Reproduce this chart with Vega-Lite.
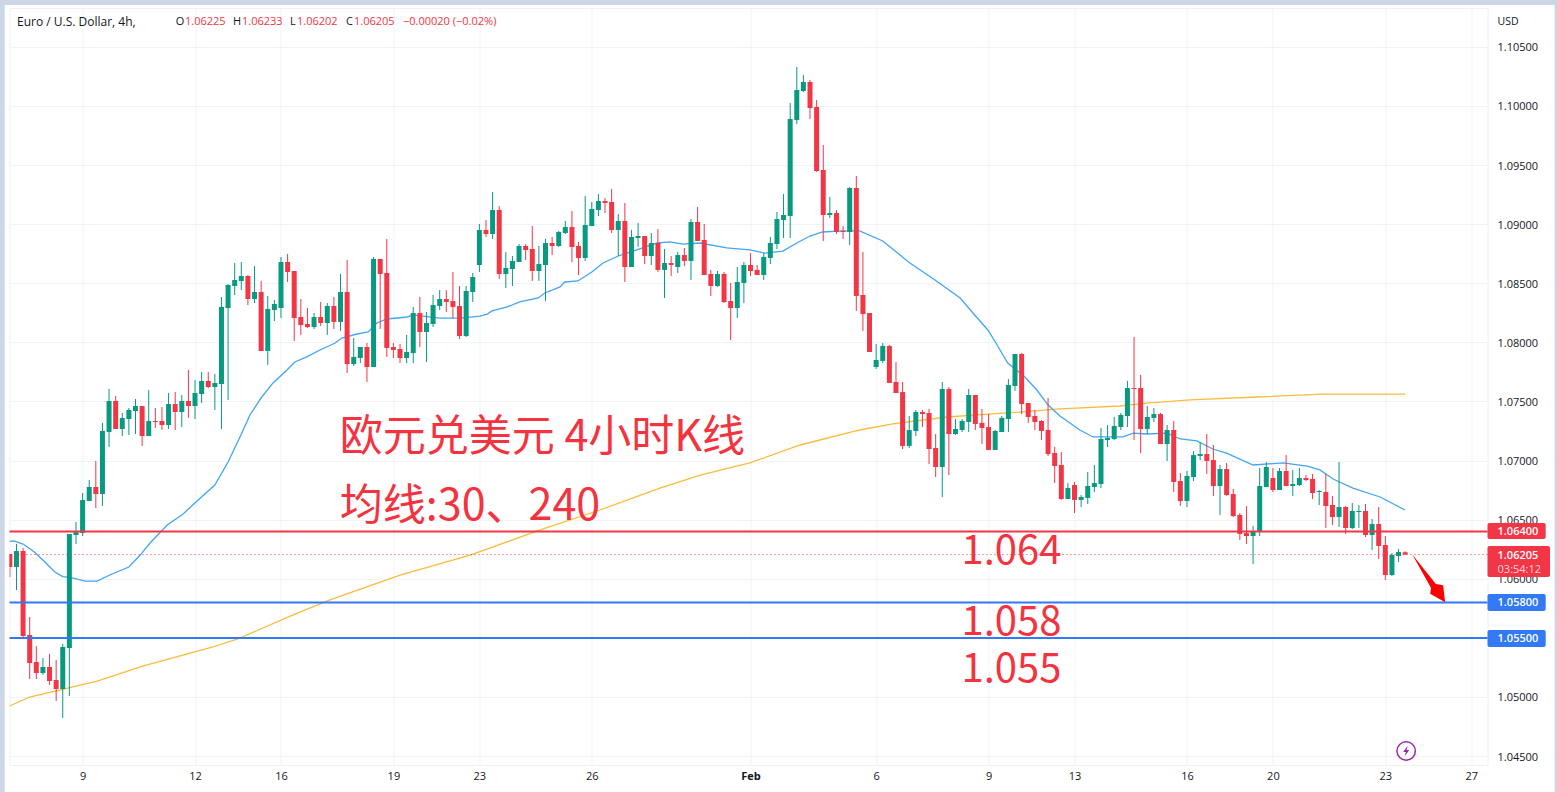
{"$schema":"https://vega.github.io/schema/vega-lite/v6.json","width":1478,"height":757,"autosize":{"type":"none"},"padding":{"left":9.5,"top":8,"right":69.5,"bottom":27},"background":"#ffffff","view":{"stroke":"#eef0f4","fill":"#ffffff"},
"datasets":{
"candles":[
{"i":-11,"o":1.06210,"h":1.06210,"l":1.06015,"c":1.06100},{"i":-10,"o":1.06100,"h":1.06294,"l":1.05905,"c":1.06235},{"i":-9,"o":1.06235,"h":1.06261,"l":1.05508,"c":1.05516},{"i":-8,"o":1.05525,"h":1.05677,"l":1.05152,"c":1.05288},{"i":-7,"o":1.05296,"h":1.05431,"l":1.05152,"c":1.05204},{"i":-6,"o":1.05204,"h":1.05330,"l":1.05187,"c":1.05254},{"i":-5,"o":1.05254,"h":1.05364,"l":1.05102,"c":1.05136},{"i":-4,"o":1.05144,"h":1.05313,"l":1.04967,"c":1.05068},{"i":-3,"o":1.05068,"h":1.05448,"l":1.04823,"c":1.05423},{"i":-2,"o":1.05415,"h":1.06379,"l":1.05009,"c":1.06379},{"i":-1,"o":1.06370,"h":1.06481,"l":1.06294,"c":1.06404},
{"i":0,"o":1.06387,"h":1.06726,"l":1.06362,"c":1.06667},{"i":1,"o":1.06658,"h":1.06836,"l":1.06658,"c":1.06776},{"i":2,"o":1.06776,"h":1.06997,"l":1.06599,"c":1.06717},{"i":3,"o":1.06717,"h":1.07319,"l":1.06616,"c":1.07251},{"i":4,"o":1.07242,"h":1.07606,"l":1.07115,"c":1.07505},{"i":5,"o":1.07505,"h":1.07547,"l":1.07267,"c":1.07267},{"i":6,"o":1.07267,"h":1.07403,"l":1.07208,"c":1.07361},{"i":7,"o":1.07352,"h":1.07445,"l":1.07217,"c":1.07428},{"i":8,"o":1.07420,"h":1.07521,"l":1.07225,"c":1.07462},{"i":9,"o":1.07462,"h":1.07462,"l":1.07124,"c":1.07208},
{"i":10,"o":1.07208,"h":1.07597,"l":1.07208,"c":1.07335},{"i":11,"o":1.07335,"h":1.07445,"l":1.07276,"c":1.07327},{"i":12,"o":1.07335,"h":1.07453,"l":1.07259,"c":1.07301},{"i":13,"o":1.07301,"h":1.07572,"l":1.07267,"c":1.07479},{"i":14,"o":1.07479,"h":1.07580,"l":1.07259,"c":1.07411},{"i":15,"o":1.07411,"h":1.07555,"l":1.07284,"c":1.07505},{"i":16,"o":1.07505,"h":1.07767,"l":1.07361,"c":1.07462},{"i":17,"o":1.07462,"h":1.07682,"l":1.07352,"c":1.07572},{"i":18,"o":1.07563,"h":1.07750,"l":1.07487,"c":1.07674},{"i":19,"o":1.07674,"h":1.07750,"l":1.07614,"c":1.07623},
{"i":20,"o":1.07623,"h":1.07733,"l":1.07428,"c":1.07657},{"i":21,"o":1.07648,"h":1.08384,"l":1.07267,"c":1.08300},{"i":22,"o":1.08291,"h":1.08494,"l":1.07513,"c":1.08486},{"i":23,"o":1.08477,"h":1.08672,"l":1.08401,"c":1.08528},{"i":24,"o":1.08520,"h":1.08680,"l":1.08443,"c":1.08562},{"i":25,"o":1.08562,"h":1.08570,"l":1.08316,"c":1.08367},{"i":26,"o":1.08367,"h":1.08646,"l":1.08333,"c":1.08426},{"i":27,"o":1.08426,"h":1.08520,"l":1.07927,"c":1.07927},{"i":28,"o":1.07927,"h":1.08393,"l":1.07809,"c":1.08283},{"i":29,"o":1.08274,"h":1.08359,"l":1.08181,"c":1.08325},
{"i":30,"o":1.08291,"h":1.08723,"l":1.08206,"c":1.08680},{"i":31,"o":1.08680,"h":1.08748,"l":1.08511,"c":1.08596},{"i":32,"o":1.08604,"h":1.08604,"l":1.08012,"c":1.08206},{"i":33,"o":1.08215,"h":1.08367,"l":1.08063,"c":1.08147},{"i":34,"o":1.08156,"h":1.08291,"l":1.08122,"c":1.08130},{"i":35,"o":1.08130,"h":1.08249,"l":1.08113,"c":1.08215},{"i":36,"o":1.08215,"h":1.08342,"l":1.08139,"c":1.08164},{"i":37,"o":1.08164,"h":1.08333,"l":1.08063,"c":1.08308},{"i":38,"o":1.08308,"h":1.08384,"l":1.08113,"c":1.08173},{"i":39,"o":1.08173,"h":1.08579,"l":1.08097,"c":1.08426},
{"i":40,"o":1.08426,"h":1.08697,"l":1.07741,"c":1.07817},{"i":41,"o":1.07817,"h":1.08037,"l":1.07800,"c":1.07877},{"i":42,"o":1.07868,"h":1.07961,"l":1.07825,"c":1.07961},{"i":43,"o":1.07961,"h":1.07995,"l":1.07665,"c":1.07792},{"i":44,"o":1.07792,"h":1.08723,"l":1.07792,"c":1.08706},{"i":45,"o":1.08706,"h":1.08706,"l":1.08113,"c":1.08579},{"i":46,"o":1.08587,"h":1.08875,"l":1.07877,"c":1.07953},{"i":47,"o":1.07961,"h":1.07995,"l":1.07868,"c":1.07936},{"i":48,"o":1.07944,"h":1.07987,"l":1.07825,"c":1.07868},{"i":49,"o":1.07868,"h":1.08063,"l":1.07825,"c":1.07919},
{"i":50,"o":1.07910,"h":1.08300,"l":1.07825,"c":1.08249},{"i":51,"o":1.08249,"h":1.08384,"l":1.07961,"c":1.08088},{"i":52,"o":1.08088,"h":1.08257,"l":1.07834,"c":1.08164},{"i":53,"o":1.08156,"h":1.08401,"l":1.08130,"c":1.08316},{"i":54,"o":1.08308,"h":1.08443,"l":1.08274,"c":1.08367},{"i":55,"o":1.08367,"h":1.08443,"l":1.08257,"c":1.08342},{"i":56,"o":1.08350,"h":1.08596,"l":1.08206,"c":1.08300},{"i":57,"o":1.08308,"h":1.08477,"l":1.08029,"c":1.08054},{"i":58,"o":1.08054,"h":1.08477,"l":1.08046,"c":1.08435},{"i":59,"o":1.08426,"h":1.08587,"l":1.08342,"c":1.08553},
{"i":60,"o":1.08655,"h":1.09002,"l":1.08596,"c":1.08951},{"i":61,"o":1.08951,"h":1.09036,"l":1.08892,"c":1.08917},{"i":62,"o":1.08917,"h":1.09272,"l":1.08875,"c":1.09120},{"i":63,"o":1.09120,"h":1.09154,"l":1.08537,"c":1.08579},{"i":64,"o":1.08579,"h":1.08765,"l":1.08460,"c":1.08630},{"i":65,"o":1.08621,"h":1.08731,"l":1.08477,"c":1.08689},{"i":66,"o":1.08680,"h":1.08832,"l":1.08680,"c":1.08816},{"i":67,"o":1.08816,"h":1.08832,"l":1.08697,"c":1.08782},{"i":68,"o":1.08790,"h":1.08985,"l":1.08520,"c":1.08604},{"i":69,"o":1.08604,"h":1.08816,"l":1.08520,"c":1.08663},
{"i":70,"o":1.08655,"h":1.08875,"l":1.08350,"c":1.08841},{"i":71,"o":1.08841,"h":1.08892,"l":1.08739,"c":1.08816},{"i":72,"o":1.08816,"h":1.08943,"l":1.08807,"c":1.08934},{"i":73,"o":1.08926,"h":1.09027,"l":1.08917,"c":1.08977},{"i":74,"o":1.08977,"h":1.09112,"l":1.08680,"c":1.08807},{"i":75,"o":1.08816,"h":1.08850,"l":1.08570,"c":1.08714},{"i":76,"o":1.08714,"h":1.09239,"l":1.08689,"c":1.08993},{"i":77,"o":1.08985,"h":1.09188,"l":1.08985,"c":1.09129},{"i":78,"o":1.09120,"h":1.09256,"l":1.09069,"c":1.09197},{"i":79,"o":1.09197,"h":1.09222,"l":1.09095,"c":1.09180},
{"i":80,"o":1.09188,"h":1.09298,"l":1.08926,"c":1.08951},{"i":81,"o":1.08951,"h":1.09086,"l":1.08731,"c":1.09027},{"i":82,"o":1.09027,"h":1.09180,"l":1.08511,"c":1.08638},{"i":83,"o":1.08638,"h":1.08951,"l":1.08638,"c":1.08892},{"i":84,"o":1.08883,"h":1.09010,"l":1.08807,"c":1.08900},{"i":85,"o":1.08900,"h":1.08900,"l":1.08663,"c":1.08731},{"i":86,"o":1.08731,"h":1.08926,"l":1.08655,"c":1.08841},{"i":87,"o":1.08841,"h":1.08959,"l":1.08596,"c":1.08613},{"i":88,"o":1.08613,"h":1.08790,"l":1.08376,"c":1.08672},{"i":89,"o":1.08672,"h":1.08731,"l":1.08562,"c":1.08655},
{"i":90,"o":1.08638,"h":1.08765,"l":1.08587,"c":1.08739},{"i":91,"o":1.08739,"h":1.08799,"l":1.08646,"c":1.08689},{"i":92,"o":1.08689,"h":1.09044,"l":1.08528,"c":1.09019},{"i":93,"o":1.09019,"h":1.09146,"l":1.08858,"c":1.08858},{"i":94,"o":1.08866,"h":1.09002,"l":1.08570,"c":1.08570},{"i":95,"o":1.08579,"h":1.08613,"l":1.08393,"c":1.08477},{"i":96,"o":1.08477,"h":1.08604,"l":1.08469,"c":1.08579},{"i":97,"o":1.08579,"h":1.08596,"l":1.08333,"c":1.08342},{"i":98,"o":1.08350,"h":1.08503,"l":1.08020,"c":1.08291},{"i":99,"o":1.08291,"h":1.08638,"l":1.08206,"c":1.08511},
{"i":100,"o":1.08503,"h":1.08680,"l":1.08333,"c":1.08655},{"i":101,"o":1.08655,"h":1.08756,"l":1.08562,"c":1.08604},{"i":102,"o":1.08613,"h":1.08655,"l":1.08570,"c":1.08570},{"i":103,"o":1.08570,"h":1.08756,"l":1.08528,"c":1.08723},{"i":104,"o":1.08714,"h":1.08892,"l":1.08663,"c":1.08841},{"i":105,"o":1.08832,"h":1.09103,"l":1.08790,"c":1.09044},{"i":106,"o":1.09036,"h":1.09256,"l":1.08883,"c":1.09078},{"i":107,"o":1.09069,"h":1.10025,"l":1.08883,"c":1.09890},{"i":108,"o":1.09882,"h":1.10330,"l":1.09848,"c":1.10135},{"i":109,"o":1.10127,"h":1.10262,"l":1.10118,"c":1.10203},
{"i":110,"o":1.10203,"h":1.10220,"l":1.09890,"c":1.09983},{"i":111,"o":1.09992,"h":1.10051,"l":1.09442,"c":1.09450},{"i":112,"o":1.09459,"h":1.09670,"l":1.08858,"c":1.09078},{"i":113,"o":1.09078,"h":1.09230,"l":1.09052,"c":1.09095},{"i":114,"o":1.09095,"h":1.09120,"l":1.08917,"c":1.08934},{"i":115,"o":1.08943,"h":1.08985,"l":1.08875,"c":1.08934},{"i":116,"o":1.08934,"h":1.09315,"l":1.08824,"c":1.09306},{"i":117,"o":1.09306,"h":1.09408,"l":1.08266,"c":1.08393},{"i":118,"o":1.08401,"h":1.08765,"l":1.08097,"c":1.08240},{"i":119,"o":1.08249,"h":1.08249,"l":1.07919,"c":1.07919},
{"i":120,"o":1.07792,"h":1.07987,"l":1.07775,"c":1.07851},{"i":121,"o":1.07843,"h":1.07995,"l":1.07825,"c":1.07970},{"i":122,"o":1.07970,"h":1.07978,"l":1.07657,"c":1.07657},{"i":123,"o":1.07665,"h":1.07834,"l":1.07572,"c":1.07572},{"i":124,"o":1.07580,"h":1.07665,"l":1.07098,"c":1.07124},{"i":125,"o":1.07124,"h":1.07377,"l":1.07107,"c":1.07259},{"i":126,"o":1.07251,"h":1.07428,"l":1.07208,"c":1.07411},{"i":127,"o":1.07411,"h":1.07428,"l":1.07284,"c":1.07394},{"i":128,"o":1.07403,"h":1.07437,"l":1.06971,"c":1.07098},{"i":129,"o":1.07107,"h":1.07225,"l":1.06861,"c":1.06946},
{"i":130,"o":1.06946,"h":1.07665,"l":1.06692,"c":1.07606},{"i":131,"o":1.07606,"h":1.07623,"l":1.06878,"c":1.07225},{"i":132,"o":1.07225,"h":1.07352,"l":1.07217,"c":1.07267},{"i":133,"o":1.07259,"h":1.07352,"l":1.07242,"c":1.07335},{"i":134,"o":1.07327,"h":1.07606,"l":1.07242,"c":1.07555},{"i":135,"o":1.07555,"h":1.07555,"l":1.07259,"c":1.07310},{"i":136,"o":1.07319,"h":1.07437,"l":1.07140,"c":1.07276},{"i":137,"o":1.07284,"h":1.07394,"l":1.07090,"c":1.07090},{"i":138,"o":1.07090,"h":1.07259,"l":1.07090,"c":1.07251},{"i":139,"o":1.07242,"h":1.07377,"l":1.07242,"c":1.07361},
{"i":140,"o":1.07352,"h":1.07690,"l":1.07242,"c":1.07640},{"i":141,"o":1.07631,"h":1.07902,"l":1.07589,"c":1.07902},{"i":142,"o":1.07902,"h":1.07910,"l":1.07394,"c":1.07479},{"i":143,"o":1.07487,"h":1.07487,"l":1.07319,"c":1.07369},{"i":144,"o":1.07377,"h":1.07428,"l":1.07259,"c":1.07327},{"i":145,"o":1.07335,"h":1.07344,"l":1.07174,"c":1.07251},{"i":146,"o":1.07259,"h":1.07530,"l":1.07039,"c":1.07056},{"i":147,"o":1.07064,"h":1.07115,"l":1.06810,"c":1.06954},{"i":148,"o":1.06963,"h":1.07073,"l":1.06667,"c":1.06675},{"i":149,"o":1.06675,"h":1.06810,"l":1.06675,"c":1.06768},
{"i":150,"o":1.06793,"h":1.06819,"l":1.06557,"c":1.06667},{"i":151,"o":1.06667,"h":1.06709,"l":1.06607,"c":1.06692},{"i":152,"o":1.06684,"h":1.06904,"l":1.06633,"c":1.06785},{"i":153,"o":1.06776,"h":1.06963,"l":1.06734,"c":1.06810},{"i":154,"o":1.06802,"h":1.07276,"l":1.06768,"c":1.07183},{"i":155,"o":1.07174,"h":1.07301,"l":1.07115,"c":1.07191},{"i":156,"o":1.07183,"h":1.07369,"l":1.07174,"c":1.07293},{"i":157,"o":1.07284,"h":1.07403,"l":1.07259,"c":1.07386},{"i":158,"o":1.07377,"h":1.07674,"l":1.07284,"c":1.07614},{"i":159,"o":1.07614,"h":1.08046,"l":1.07174,"c":1.07606},
{"i":160,"o":1.07614,"h":1.07724,"l":1.07064,"c":1.07267},{"i":161,"o":1.07267,"h":1.07462,"l":1.07225,"c":1.07369},{"i":162,"o":1.07361,"h":1.07445,"l":1.07327,"c":1.07394},{"i":163,"o":1.07394,"h":1.07403,"l":1.07140,"c":1.07140},{"i":164,"o":1.07140,"h":1.07301,"l":1.06997,"c":1.07259},{"i":165,"o":1.07259,"h":1.07335,"l":1.06734,"c":1.06819},{"i":166,"o":1.06827,"h":1.06895,"l":1.06616,"c":1.06658},{"i":167,"o":1.06658,"h":1.06912,"l":1.06607,"c":1.06870},{"i":168,"o":1.06861,"h":1.07081,"l":1.06827,"c":1.07047},{"i":169,"o":1.07039,"h":1.07157,"l":1.07005,"c":1.07056},
{"i":170,"o":1.07056,"h":1.07225,"l":1.06887,"c":1.06997},{"i":171,"o":1.07005,"h":1.07132,"l":1.06701,"c":1.06785},{"i":172,"o":1.06785,"h":1.06963,"l":1.06540,"c":1.06929},{"i":173,"o":1.06929,"h":1.06980,"l":1.06701,"c":1.06709},{"i":174,"o":1.06717,"h":1.06760,"l":1.06523,"c":1.06531},{"i":175,"o":1.06540,"h":1.06557,"l":1.06328,"c":1.06379},{"i":176,"o":1.06387,"h":1.06616,"l":1.06294,"c":1.06362},{"i":177,"o":1.06362,"h":1.06447,"l":1.06125,"c":1.06404},{"i":178,"o":1.06404,"h":1.06937,"l":1.06362,"c":1.06785},{"i":179,"o":1.06776,"h":1.06988,"l":1.06776,"c":1.06946},
{"i":180,"o":1.06853,"h":1.06937,"l":1.06734,"c":1.06751},{"i":181,"o":1.06751,"h":1.06937,"l":1.06751,"c":1.06912},{"i":182,"o":1.06912,"h":1.07047,"l":1.06785,"c":1.06785},{"i":183,"o":1.06785,"h":1.06921,"l":1.06701,"c":1.06802},{"i":184,"o":1.06793,"h":1.06937,"l":1.06785,"c":1.06853},{"i":185,"o":1.06853,"h":1.06878,"l":1.06827,"c":1.06836},{"i":186,"o":1.06844,"h":1.06887,"l":1.06675,"c":1.06726},{"i":187,"o":1.06734,"h":1.06751,"l":1.06624,"c":1.06743},{"i":188,"o":1.06734,"h":1.06887,"l":1.06430,"c":1.06616},{"i":189,"o":1.06624,"h":1.06701,"l":1.06455,"c":1.06523},
{"i":190,"o":1.06523,"h":1.06988,"l":1.06438,"c":1.06607},{"i":191,"o":1.06607,"h":1.06616,"l":1.06379,"c":1.06430},{"i":192,"o":1.06430,"h":1.06641,"l":1.06421,"c":1.06574},{"i":193,"o":1.06565,"h":1.06624,"l":1.06430,"c":1.06574},{"i":194,"o":1.06574,"h":1.06633,"l":1.06354,"c":1.06370},{"i":195,"o":1.06370,"h":1.06506,"l":1.06244,"c":1.06464},{"i":196,"o":1.06464,"h":1.06607,"l":1.06168,"c":1.06278},{"i":197,"o":1.06286,"h":1.06362,"l":1.05990,"c":1.06032},{"i":198,"o":1.06032,"h":1.06218,"l":1.06024,"c":1.06202},{"i":199,"o":1.06193,"h":1.06252,"l":1.06142,"c":1.06227},{"i":200,"o":1.06225,"h":1.06233,"l":1.06202,"c":1.06205}
],
"ma30":[{"i":-11.05,"p":1.06317},{"i":-10.4,"p":1.06320},{"i":-9,"p":1.06294},{"i":-7.3,"p":1.06227},{"i":-5.7,"p":1.06142},{"i":-4.2,"p":1.06058},{"i":-3,"p":1.06019},{"i":-1.6,"p":1.06007},{"i":0.4,"p":1.05981},{"i":2.2,"p":1.05981},{"i":4.1,"p":1.06032},{"i":7,"p":1.06100},{"i":8.7,"p":1.06201},{"i":10.2,"p":1.06303},{"i":12.8,"p":1.06455},{"i":15.2,"p":1.06548},{"i":17.8,"p":1.06684},{"i":20,"p":1.06793},{"i":22,"p":1.06988},{"i":23.8,"p":1.07200},{"i":25.3,"p":1.07386},{"i":27.1,"p":1.07538},{"i":28.8,"p":1.07657},{"i":30.9,"p":1.07767},{"i":32.1,"p":1.07834},{"i":33.9,"p":1.07877},{"i":35.9,"p":1.07936},{"i":38.2,"p":1.07995},{"i":39.2,"p":1.08037},{"i":41.5,"p":1.08071},{"i":43.2,"p":1.08088},{"i":44.5,"p":1.08164},{"i":46,"p":1.08198},{"i":49.1,"p":1.08215},{"i":50,"p":1.08232},{"i":51.5,"p":1.08223},{"i":54,"p":1.08206},{"i":57.1,"p":1.08206},{"i":60.1,"p":1.08223},{"i":61.2,"p":1.08240},{"i":61.9,"p":1.08266},{"i":64.2,"p":1.08300},{"i":66.1,"p":1.08342},{"i":68.9,"p":1.08376},{"i":69.9,"p":1.08418},{"i":72.2,"p":1.08469},{"i":72.9,"p":1.08511},{"i":74.9,"p":1.08520},{"i":77,"p":1.08596},{"i":78.7,"p":1.08672},{"i":81,"p":1.08731},{"i":83.8,"p":1.08782},{"i":86.9,"p":1.08841},{"i":88.8,"p":1.08850},{"i":90.8,"p":1.08832},{"i":93.4,"p":1.08841},{"i":97.4,"p":1.08799},{"i":100.9,"p":1.08782},{"i":103.2,"p":1.08756},{"i":105.9,"p":1.08773},{"i":108,"p":1.08841},{"i":110,"p":1.08900},{"i":111.9,"p":1.08934},{"i":115,"p":1.08943},{"i":117.5,"p":1.08943},{"i":121,"p":1.08858},{"i":125.1,"p":1.08672},{"i":128.9,"p":1.08528},{"i":132.7,"p":1.08376},{"i":134.9,"p":1.08232},{"i":136.9,"p":1.08105},{"i":138.3,"p":1.07978},{"i":139.9,"p":1.07825},{"i":142.5,"p":1.07707},{"i":144.3,"p":1.07597},{"i":146,"p":1.07470},{"i":147.8,"p":1.07377},{"i":150.8,"p":1.07259},{"i":152.8,"p":1.07200},{"i":157.3,"p":1.07200},{"i":158.9,"p":1.07233},{"i":160.9,"p":1.07225},{"i":164,"p":1.07233},{"i":166,"p":1.07183},{"i":168.5,"p":1.07166},{"i":170.9,"p":1.07098},{"i":173,"p":1.07064},{"i":177,"p":1.06963},{"i":181.5,"p":1.06980},{"i":185.2,"p":1.06954},{"i":187.1,"p":1.06921},{"i":189.1,"p":1.06844},{"i":192.1,"p":1.06768},{"i":196.2,"p":1.06692},{"i":200,"p":1.06582}],
"ma240":[{"i":-11.05,"p":1.04924},{"i":-8,"p":1.05000},{"i":2.2,"p":1.05135},{"i":9.1,"p":1.05262},{"i":19.7,"p":1.05423},{"i":23.8,"p":1.05499},{"i":31.4,"p":1.05685},{"i":37.4,"p":1.05821},{"i":48,"p":1.06032},{"i":58.6,"p":1.06201},{"i":69.2,"p":1.06413},{"i":78.2,"p":1.06582},{"i":87.3,"p":1.06768},{"i":93.4,"p":1.06878},{"i":100.9,"p":1.06980},{"i":108.5,"p":1.07132},{"i":117.5,"p":1.07259},{"i":122.5,"p":1.07310},{"i":130.7,"p":1.07369},{"i":139.8,"p":1.07403},{"i":147.8,"p":1.07437},{"i":156.9,"p":1.07462},{"i":160.9,"p":1.07487},{"i":167.5,"p":1.07513},{"i":177.6,"p":1.07538},{"i":187.6,"p":1.07563},{"i":200,"p":1.07563}]
},
"layer":[
{"data":{"values":[{"a":-12.49,"b":-11.78,"u":1.10897,"v":1.04196},{"a":-12.49,"b":222.95,"u":1.10897,"v":1.10855},{"a":222.58,"b":222.95,"u":1.10897,"v":1.04196}]},
"mark":{"type":"rect","color":"#ccd6e6"},
"encoding":{
"x":{"field":"a","type":"quantitative","scale":{"domain":[-11.054,212.45],"nice":false,"zero":false,"padding":0},
"axis":{"title":null,"values":[0,17,30,47,60,77,101,120,137,150,167,180,197,210],"labelExpr":"['9','12','16','19','23','26','Feb','6','9','13','16','20','23','27'][indexof([0,17,30,47,60,77,101,120,137,150,167,180,197,210],datum.value)]","grid":true,"gridColor":"#f0f3fa","gridWidth":1,"domain":false,"ticks":false,"labelPadding":5,"labelFont":"Open Sans","labelFontSize":11,"labelColor":"#131722","labelFontWeight":{"condition":{"test":"datum.value==101","value":"bold"},"value":"normal"},"labelOverlap":false,"labelFlush":false}},
"x2":{"field":"b"},
"y":{"field":"u","type":"quantitative","scale":{"domain":[1.044247,1.108291],"nice":false,"zero":false},
"axis":{"title":null,"orient":"right","values":[1.045,1.05,1.055,1.06,1.065,1.07,1.075,1.08,1.085,1.09,1.095,1.1,1.105],"format":".5f","grid":true,"gridColor":"#f0f3fa","gridWidth":1,"domain":false,"ticks":false,"labelPadding":9.5,"labelOffset":1,"labelFont":"Open Sans","labelFontSize":11,"labelColor":"#131722","labelOverlap":false,"labelFlush":false}},
"y2":{"field":"v"}}},
{"data":{"name":"ma240"},"mark":{"type":"line","color":"#fbbc3c","strokeWidth":1.3,"clip":true},"encoding":{"x":{"field":"i","type":"quantitative"},"y":{"field":"p","type":"quantitative"}}},
{"data":{"name":"ma30"},"mark":{"type":"line","color":"#42a5f5","strokeWidth":1.3,"clip":true},"encoding":{"x":{"field":"i","type":"quantitative"},"y":{"field":"p","type":"quantitative"}}},
{"data":{"name":"candles"},"mark":{"type":"rule","strokeWidth":1,"clip":true},"encoding":{"x":{"field":"i","type":"quantitative"},"y":{"field":"l","type":"quantitative"},"y2":{"field":"h"},"color":{"condition":{"test":"datum.c>=datum.o","value":"#089981"},"value":"#f23645"}}},
{"data":{"name":"candles"},"mark":{"type":"bar","size":5,"clip":true},"encoding":{"x":{"field":"i","type":"quantitative"},"y":{"field":"o","type":"quantitative"},"y2":{"field":"c"},"color":{"condition":{"test":"datum.c>=datum.o","value":"#089981"},"value":"#f23645"}}},
{"data":{"values":[{"p":1.06205}]},"mark":{"type":"rule","color":"#f23645","strokeWidth":1,"strokeDash":[1,3]},"encoding":{"y":{"field":"p","type":"quantitative"}}},
{"data":{"values":[{"p":1.064}]},"mark":{"type":"rule","color":"#f23645","strokeWidth":2},"encoding":{"y":{"field":"p","type":"quantitative"}}},
{"data":{"values":[{"p":1.058},{"p":1.055}]},"mark":{"type":"rule","color":"#3179f5","strokeWidth":2},"encoding":{"y":{"field":"p","type":"quantitative"}}},
{"data":{"values":[{"i":203.55,"p":1.06004}]},"mark":{"type":"point","filled":true,"opacity":1,"color":"#ff0000","size":3600,"shape":"M-0.55,-0.8 L0.24,0.19 L0.483,0.233 L0.55,0.8 L0.05,0.51 L0.08,0.32 Z"},"encoding":{"x":{"field":"i","type":"quantitative"},"y":{"field":"p","type":"quantitative"}}},
{"data":{"values":[{"i":200.15,"p":1.04543}]},"mark":{"type":"point","filled":false,"opacity":1,"color":"#9c27b0","size":340,"strokeWidth":1.5},"encoding":{"x":{"field":"i","type":"quantitative"},"y":{"field":"p","type":"quantitative"}}},
{"data":{"values":[{"i":200.15,"p":1.04543}]},"mark":{"type":"point","filled":true,"opacity":1,"color":"#9c27b0","size":110,"shape":"M0.3,-1 L-0.6,0.2 L-0.05,0.2 L-0.3,1 L0.6,-0.2 L0.05,-0.2 Z"},"encoding":{"x":{"field":"i","type":"quantitative"},"y":{"field":"p","type":"quantitative"}}},
{"data":{"values":[{"t":"欧元兑美元 4小时K线","i":38.9,"p":1.07191},{"t":"均线:30、240","i":38.9,"p":1.06608}]},"mark":{"type":"text","align":"left","baseline":"middle","font":"Noto Sans CJK SC","fontSize":43,"color":"#f5333f"},"encoding":{"x":{"field":"i","type":"quantitative"},"y":{"field":"p","type":"quantitative"},"text":{"field":"t"}}},
{"data":{"values":[{"t":"1.064","i":132.9,"p":1.06227},{"t":"1.058","i":132.9,"p":1.05627},{"t":"1.055","i":132.9,"p":1.05228}]},"mark":{"type":"text","align":"left","baseline":"middle","font":"Noto Sans CJK SC","fontSize":40,"color":"#f5333f"},"encoding":{"x":{"field":"i","type":"quantitative"},"y":{"field":"p","type":"quantitative"},"text":{"field":"t"}}},
{"data":{"values":[{"t":"Euro / U.S. Dollar, 4h,","i":-9.92}]},"mark":{"type":"text","align":"left","baseline":"middle","font":"Open Sans","fontSize":12,"color":"#131722"},"encoding":{"x":{"field":"i","type":"quantitative"},"y":{"datum":1.10711,"type":"quantitative"},"text":{"field":"t"}}},
{"data":{"values":[{"t":"O","i":14.08},{"t":"H","i":22.74},{"t":"L","i":31.36},{"t":"C","i":39.83}]},"mark":{"type":"text","align":"left","baseline":"middle","font":"Open Sans","fontSize":11,"color":"#131722"},"encoding":{"x":{"field":"i","type":"quantitative"},"y":{"datum":1.10711,"type":"quantitative"},"text":{"field":"t"}}},
{"data":{"values":[{"t":"1.06225","i":15.48},{"t":"1.06233","i":24.1},{"t":"1.06202","i":32.42},{"t":"1.06205","i":41.04},{"t":"−0.00020 (−0.02%)","i":48.45}]},"mark":{"type":"text","align":"left","baseline":"middle","font":"Open Sans","fontSize":11,"color":"#f23645"},"encoding":{"x":{"field":"i","type":"quantitative"},"y":{"datum":1.10711,"type":"quantitative"},"text":{"field":"t"}}},
{"data":{"values":[{"t":"USD","i":213.97,"p":1.10711}]},"mark":{"type":"text","align":"left","baseline":"middle","font":"Open Sans","fontSize":10.5,"color":"#131722"},"encoding":{"x":{"field":"i","type":"quantitative"},"y":{"field":"p","type":"quantitative"},"text":{"field":"t"}}},
{"data":{"values":[{"a":212.45,"b":221.25,"u":1.06472,"v":1.06337}]},"mark":{"type":"rect","color":"#f23645","cornerRadius":2},"encoding":{"x":{"field":"a","type":"quantitative"},"x2":{"field":"b"},"y":{"field":"u","type":"quantitative"},"y2":{"field":"v"}}},
{"data":{"values":[{"a":212.45,"b":221.9,"u":1.06278,"v":1.06015}]},"mark":{"type":"rect","color":"#f23645","cornerRadius":2},"encoding":{"x":{"field":"a","type":"quantitative"},"x2":{"field":"b"},"y":{"field":"u","type":"quantitative"},"y2":{"field":"v"}}},
{"data":{"values":[{"a":212.45,"b":221.25,"u":1.05872,"v":1.05728},{"a":212.45,"b":221.25,"u":1.05567,"v":1.05423}]},"mark":{"type":"rect","color":"#3179f5","cornerRadius":2},"encoding":{"x":{"field":"a","type":"quantitative"},"x2":{"field":"b"},"y":{"field":"u","type":"quantitative"},"y2":{"field":"v"}}},
{"data":{"values":[{"t":"1.06400","p":1.06396},{"t":"1.06205","p":1.06194},{"t":"1.05800","p":1.05792},{"t":"1.05500","p":1.05492}]},"mark":{"type":"text","align":"left","baseline":"middle","font":"Open Sans","fontSize":11,"fontWeight":600,"color":"#ffffff"},"encoding":{"x":{"datum":213.97,"type":"quantitative"},"y":{"field":"p","type":"quantitative"},"text":{"field":"t"}}},
{"data":{"values":[{"t":"03:54:12","p":1.06075}]},"mark":{"type":"text","align":"left","baseline":"middle","font":"Open Sans","fontSize":11,"color":"#ffd5d9"},"encoding":{"x":{"datum":213.97,"type":"quantitative"},"y":{"field":"p","type":"quantitative"},"text":{"field":"t"}}}
]}
